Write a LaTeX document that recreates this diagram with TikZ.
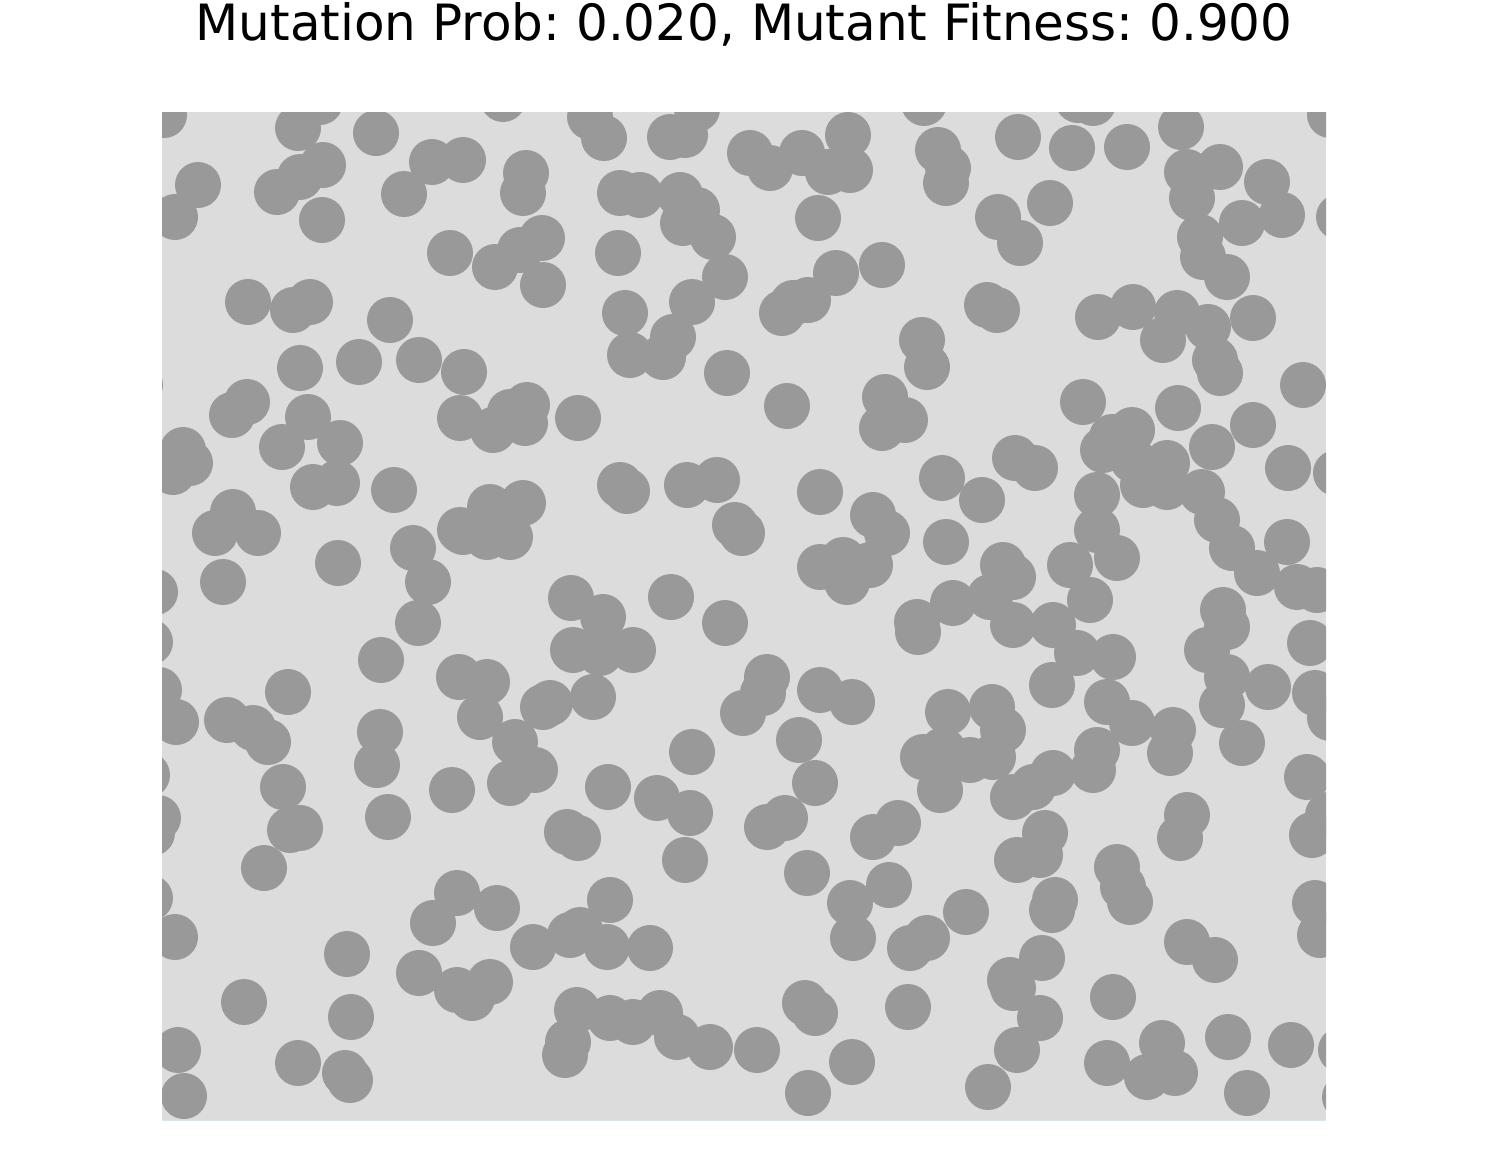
\documentclass[tikz,border=0pt]{standalone}
\usepackage{fontspec}
\setmainfont{DejaVu Sans}
\frenchspacing
\definecolor{plotbg}{RGB}{220,220,220}
\definecolor{dotgray}{RGB}{153,153,153}
\definecolor{edgeblue}{RGB}{205,232,238}
\tikzset{dot/.style={fill=dotgray, draw=none}}
\begin{document}
\begin{tikzpicture}[x=1pt,y=-1pt]
\useasboundingbox (0,0) rectangle (1488,1171);
\fill[white] (0,0) rectangle (1488,1171);
\node[anchor=base, inner sep=0pt, font=\fontsize{50}{60}\selectfont] (title) at (744,40) {Mutation Prob: 0.020, Mutant Fitness: 0.900};
\fill[plotbg] (162,112) rectangle (1326,1120);
\draw[edgeblue, line width=1pt] (162,1120) -- (1326,1120);
\begin{scope}
\clip (162,112) rectangle (1326,1120);
\foreach \px/\py in {
164/115,298/128,320/102,376/133,198/185,175/217,277/192,300/177,323/165,322/220,
404/194,432/162,463/160,450/253,248/302,293/310,310/302,390/320,300/368,359/362,
419/360,464/372,232/415,247/402,308/417,183/450,282/447,340/443,460/418,140/385,
190/463,173/472,313/487,337/483,394/490,233/512,215/533,258/533,223/582,338/563,
413/548,428/582,418/623,381/660,460/530,155/592,150/642,159/690,176/722,227/720,
253/728,268/742,288/692,380/732,377/765,459/677,147/775,283/787,452/790,290/830,
300/828,264/868,388/817,158/818,152/833,150/898,175/937,457/893,433/923,419/973,
347/954,244/1002,351/1017,178/1050,184/1096,298/1063,345/1073,350/1080,457/990,
503/99,590/117,604/138,670/137,685/135,697/109,750/153,526/173,523/193,495/267,
520/250,542/238,543/285,620/193,640/195,680/195,697/210,683/223,713/237,618/253,
725/277,692/302,625/313,673/337,663/357,630/355,727/373,493/430,510/412,527/405,
525/423,578/418,
620/485,627/491,687/485,717/480,735/525,742/533,463/532,490/507,523/503,487/537,510/537,
571/598,603/617,573/650,600/653,633/650,671/597,725/623,487/682,480/717,550/703,
543/707,593/697,515/742,535/770,510/783,608/787,657/798,692/752,743/713,
690/813,685/860,567/832,578/838,497/908,610/900,533/947,570/935,580/930,607/947,
650/948,490/982,472/998,577/1010,610/1018,633/1022,660/1013,677/1037,710/1047,757/1050,
568/1042,565/1055,
770/168,802/153,828/172,850/170,848/135,924/103,938/150,948/168,946/183,1018/137,
818/218,836/273,882/265,782/313,808/300,793/303,998/217,1020/243,987/305,997/310,
922/340,927/367,787/406,885/397,905/420,882/428,
1078/100,1093/103,1072/148,1127/147,1181/127,1187/172,1220/167,1192/198,1267/182,1282/215,1242/223,
1339/217,1330/115,1050/203,1200/237,1203/257,1227/277,1098/317,1133/307,1177/313,1163/340,
1208/327,1253/318,1215/360,1220/373,1083/402,1178/408,1253/425,1303/385,1112/437,1132/430,
1212/447,
1015/458,1035/468,1103/450,1133/460,1167/463,1143/485,1167/487,1288/468,1336/473,1097/495,
1202/492,1217/520,1232/548,1257/573,1287/542,1297/587,1317/590,1097/530,1117/558,1070/565,
1090/600,1003/565,1013/577,1053/625,1013/625,1113/657,1077/653,1052/685,1107/702,1132/723,
1173/730,1170/753,1097/750,1093/770,1053/773,1033/787,1223/610,1227/627,1207/650,1227/677,
1222/705,1268/687,1242/743,1310/643,1315/693,1330/718,1307/777,
820/492,873/515,887/533,820/567,843/560,847/582,870/565,942/478,982/500,946/542,
917/622,918/632,953/603,990/597,767/677,763/693,820/690,852/702,799/740,815/783,
948/712,992/707,1003/730,923/757,943/750,970/760,993/757,940/790,1013/797,
767/827,785/818,873/837,898/823,1045/833,1040/855,1017/860,807/873,850/903,853/938,
889/885,966/912,910/948,927/938,805/1003,815/1013,908/1007,1010/980,1013/988,1040/1018,
852/1062,808/1093,988/1087,1017/1050,
1187/815,1180/838,1117/867,1123/887,1130/902,1055/900,1052/910,1315/903,1320/935,1312/835,
1328/815,1042/958,1187/942,1215/960,1113/997,1107/1063,1147/1077,1162/1043,1175/1073,1228/1037,
1291/1045,1247/1093,1341/1050,1345/1097}
  \fill[dot] (\px,\py) circle (23pt);
\end{scope}
\end{tikzpicture}
\end{document}
